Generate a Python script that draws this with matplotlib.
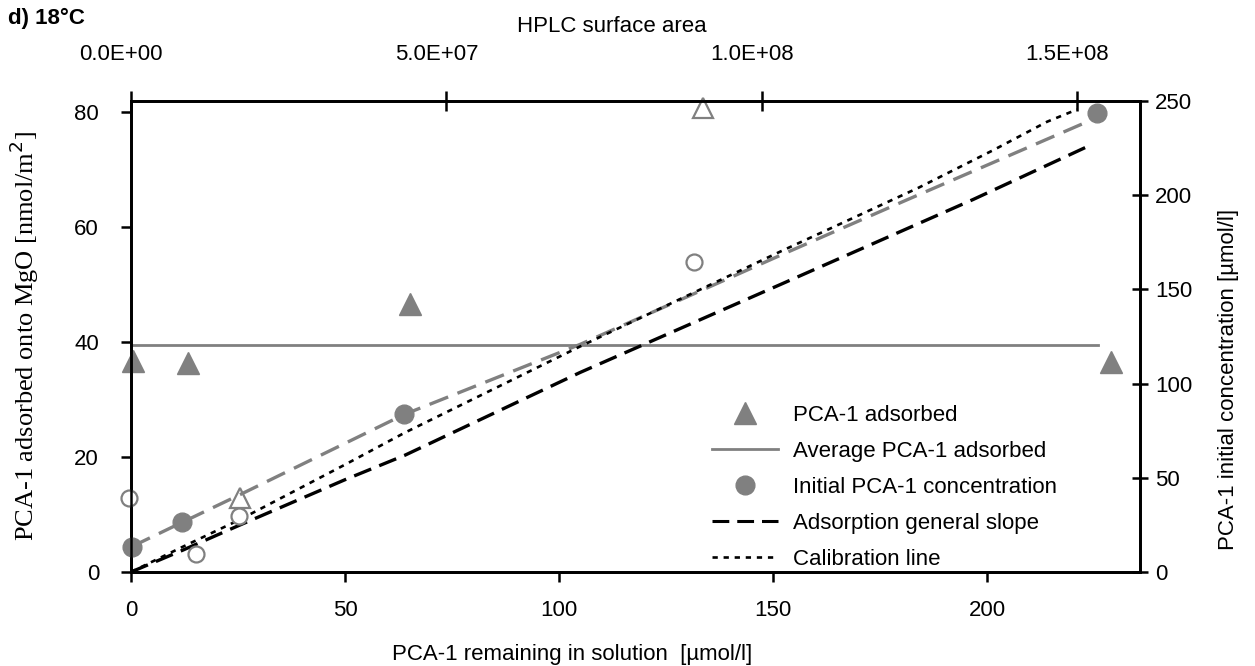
import matplotlib
matplotlib.use("Agg")
import matplotlib.pyplot as plt
from matplotlib.lines import Line2D
from matplotlib.transforms import ScaledTranslation

# ---- data -------------------------------------------------------------
# PCA-1 adsorbed onto MgO (left axis, nmol/m2) vs PCA-1 remaining in solution
adsorbed_x = [0.5, 13.3, 65.2, 229.0]
adsorbed_y = [36.7, 36.3, 46.6, 36.5]

# adsorbed values left out of the average (open triangles)
excluded_ads_x = [25.5, 133.6]
excluded_ads_y = [12.9, 80.7]

# average adsorbed amount
average_ads = 39.4
average_x = [0.0, 226.0]

# initial PCA-1 concentration (right axis, umol/l)
initial_x = [0.2, 11.9, 63.8, 225.7]
initial_y = [13.5, 26.3, 83.6, 243.4]

# initial concentrations of excluded samples (open circles)
excluded_init_x = [-0.4, 15.2, 25.2, 131.5]
excluded_init_y = [39.5, 9.8, 29.5, 164.3]

# trend through the initial concentrations (grey dashed)
init_trend_x = [0.2, 11.9, 25.5, 63.8, 104.9, 151.6, 179.7, 223.4]
init_trend_y = [13.5, 26.3, 41.1, 83.6, 120.8, 168.0, 196.0, 239.0]

# adsorption general slope (black dashed)
slope_x = [0.0, 12.0, 25.0, 50.0, 64.0, 104.9, 151.6, 196.7, 223.4]
slope_y = [0.0, 11.5, 24.5, 49.0, 62.0, 105.9, 152.5, 197.7, 225.8]

# calibration line (black dotted)
calib_x = [0.0, 12.0, 25.5, 50.0, 64.0, 104.9, 151.6, 184.0, 201.5, 214.0, 221.0]
calib_y = [0.0, 13.3, 27.9, 57.0, 74.0, 119.7, 170.0, 204.0, 224.0, 239.0, 245.5]

# axis ticks
bottom_ticks = [0, 50, 100, 150, 200]
left_ticks = [0, 20, 40, 60, 80]
right_ticks = [0, 50, 100, 150, 200, 250]
top_ticks = [0.0, 5.0e7, 1.0e8, 1.5e8]
top_labels = ["0.0E+00", "5.0E+07", "1.0E+08", "1.5E+08"]

# ---- style ------------------------------------------------------------
plt.rcParams["font.family"] = ["Liberation Sans", "DejaVu Sans"]
GREY = "#808080"
FS = 16

fig = plt.figure(figsize=(12.55, 6.66), dpi=100)
ax = fig.add_axes([131 / 1255, 1 - 572 / 666, (1140 - 131) / 1255, (572 - 101) / 666])
ax_r = ax.twinx()
ax_t = ax.twiny()

ax.set_xlim(0, 235.7)
ax.set_ylim(0, 81.9)
ax_r.set_ylim(0, 250)
ax_t.set_xlim(0, 1.6e8)

for a in (ax, ax_r, ax_t):
    a.patch.set_visible(False)
    for s in a.spines.values():
        s.set_linewidth(1.8)
        s.set_color("black")

# lines on the concentration axis
ax_r.plot(init_trend_x, init_trend_y, color=GREY, lw=2.4, dashes=(6.0, 3.0), zorder=3)
ax_r.plot(slope_x, slope_y, color="black", lw=2.4, dashes=(5.5, 2.6), zorder=3)
ax_r.plot(calib_x, calib_y, color="black", lw=1.9, dashes=(2.0, 2.2), zorder=3)

# concentration markers
ax_r.plot(initial_x, initial_y, ls="none", marker="o", ms=13.5, color=GREY,
          mec=GREY, zorder=4, clip_on=False)
ax_r.plot(excluded_init_x, excluded_init_y, ls="none", marker="o", ms=11.5,
          mfc="white", mec=GREY, mew=1.6, zorder=4, clip_on=False)

# adsorbed amounts
ax.plot(average_x, [average_ads, average_ads], color=GREY, lw=2.0, zorder=2)
ax.plot(adsorbed_x, adsorbed_y, ls="none", marker="^", ms=16, color=GREY,
        mec=GREY, zorder=5, clip_on=False)
ax.plot(excluded_ads_x, excluded_ads_y, ls="none", marker="^", ms=14,
        mfc="white", mec=GREY, mew=1.6, zorder=5, clip_on=False)

# ticks
ax.set_xticks(bottom_ticks)
ax.set_yticks(left_ticks)
ax_r.set_yticks(right_ticks)
ax_t.set_xticks(top_ticks)
ax_t.set_xticklabels(top_labels)

ax.tick_params(axis="x", direction="out", length=7, width=1.8, labelsize=FS, pad=13)
ax.tick_params(axis="y", direction="out", length=7, width=1.8, labelsize=FS, pad=16)
ax_r.tick_params(axis="y", direction="inout", length=12, width=1.8, labelsize=FS, pad=5)
ax_t.tick_params(axis="x", direction="inout", length=14, width=1.8, labelsize=FS, pad=19)

# top tick labels sit a little left of their ticks
shift = ScaledTranslation(-10 / 100, 0, fig.dpi_scale_trans)
for lab in ax_t.get_xticklabels():
    lab.set_transform(lab.get_transform() + shift)

# axis titles
ax.set_xlabel("PCA-1 remaining in solution  [\u00b5mol/l]", fontsize=FS)
ax.xaxis.set_label_coords(0.437, -0.152)
ax.set_ylabel("PCA-1 adsorbed onto MgO [nmol/m$^2$]", fontsize=19,
              family=["Liberation Serif", "DejaVu Serif"])
ax.yaxis.set_label_coords(-0.089, 0.5)
ax_r.set_ylabel("PCA-1 initial concentration [\u00b5mol/l]", fontsize=FS)
ax_r.yaxis.set_label_coords(1.077, 0.408)
ax_t.set_xlabel("HPLC surface area", fontsize=FS)
ax_t.xaxis.set_label_coords(0.477, 1.146)

fig.text(8 / 1255, 1 - 18 / 666, "d) 18\u00b0C", fontsize=FS, fontweight="bold",
         va="center", ha="left")

# legend
handles = [
    Line2D([], [], ls="none", marker="^", ms=16, color=GREY, mec=GREY),
    Line2D([], [], color=GREY, lw=2.0),
    Line2D([], [], ls="none", marker="o", ms=13.5, color=GREY, mec=GREY),
    Line2D([], [], color="black", lw=2.2, dashes=(5.5, 2.6)),
    Line2D([], [], color="black", lw=1.9, dashes=(2.0, 2.2)),
]
labels = ["PCA-1 adsorbed", "Average PCA-1 adsorbed", "Initial PCA-1 concentration",
          "Adsorption general slope", "Calibration line"]
ax_t.legend(handles, labels, loc="lower left",
            bbox_to_anchor=(712 / 1255, 1 - 570 / 666), bbox_transform=fig.transFigure,
            frameon=False, fontsize=FS, handlelength=2.97, handletextpad=0.68,
            labelspacing=0.68, borderpad=0, borderaxespad=0)

fig.savefig("out.png", dpi=100)
